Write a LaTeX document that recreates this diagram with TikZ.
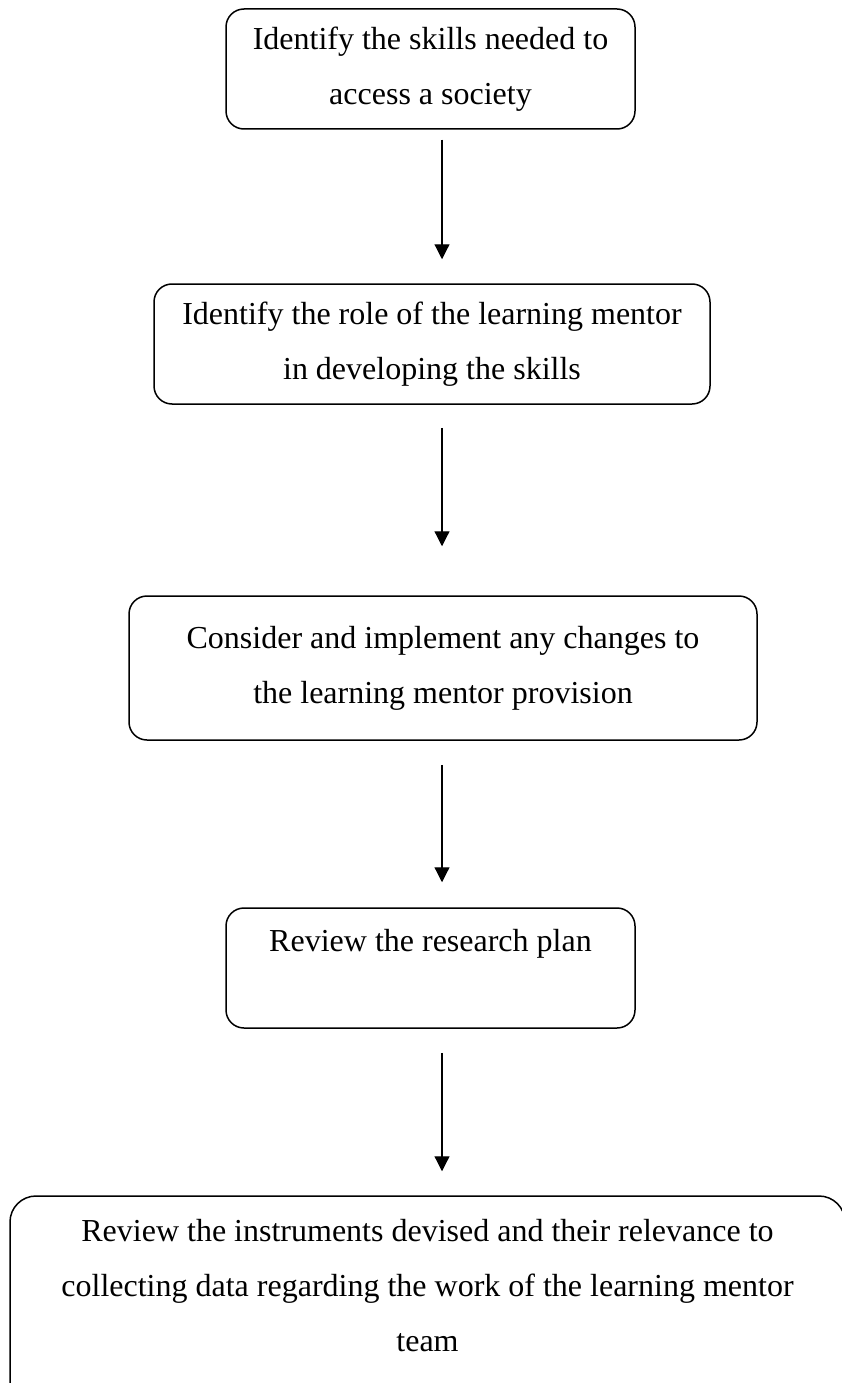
\documentclass[tikz,border=0pt]{standalone}
\usepackage{fontspec}
\setmainfont{Liberation Serif}
\usetikzlibrary{arrows.meta}
\tikzset{>={Triangle[length=15pt,width=15pt]}}

\begin{document}
\begin{tikzpicture}[x=1pt, y=-1pt,
stepbox/.style={draw, line width=1.5pt, rounded corners=18pt, align=center,
  inner sep=0pt, font=\fontsize{32}{55}\selectfont},
flow/.style={->, line width=1.2pt}]
\useasboundingbox (0,0) rectangle (841,1383);
\coordinate (axis) at (442,0);
\node[stepbox, minimum width=409pt, minimum height=120pt] (skills) at (430.5,69)
  {Identify the skills needed to\\access a society};
\node[stepbox, minimum width=556pt, minimum height=120pt] (role) at (432,344)
  {Identify the role of the learning mentor\\in developing the skills};
\node[stepbox, minimum width=628pt, minimum height=144pt] (changes) at (443,668)
  {Consider and implement any changes to\\the learning mentor provision};
\node[stepbox, minimum width=409pt, minimum height=120pt] (plan) at (430.5,968)
  {Review the research plan\\ \mbox{}};
\node[stepbox, rounded corners=26pt, minimum width=835pt, minimum height=234pt] (instruments) at (427.5,1313)
  {Review the instruments devised and their relevance to\\collecting data regarding the work of the learning mentor\\team\\ \mbox{}};
%\draw (axis) -- ++(0,1383);
\draw[flow, shorten <=10pt, shorten >=24pt] (skills.south -| axis) -- (role.north -| axis);
\draw[flow, shorten <=23pt, shorten >=49pt] (role.south -| axis) -- (changes.north -| axis);
\draw[flow, shorten <=24pt, shorten >=25pt] (changes.south -| axis) -- (plan.north -| axis);
\draw[flow, shorten <=24pt, shorten >=24pt] (plan.south -| axis) -- (instruments.north -| axis);
\end{tikzpicture}
\end{document}
